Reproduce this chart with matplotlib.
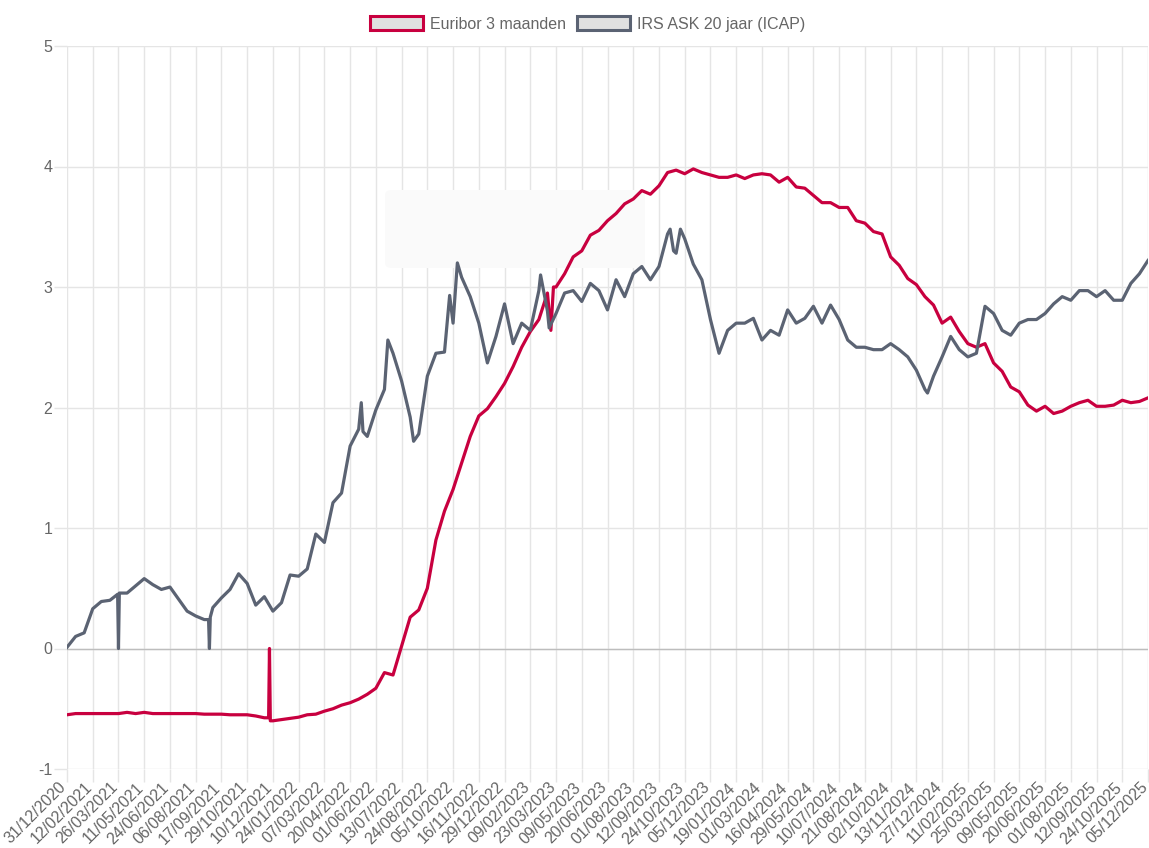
import matplotlib
matplotlib.use('Agg')
import matplotlib.pyplot as plt
import matplotlib.transforms as mtransforms
from matplotlib.patches import Patch, FancyBboxPatch

plt.rcParams['font.family'] = ['Liberation Sans', 'DejaVu Sans']
plt.rcParams['axes.unicode_minus'] = False

# labels op de x-as (elke 30e notering)
tick_labels = ['31/12/2020', '12/02/2021', '26/03/2021', '11/05/2021', '24/06/2021', '06/08/2021',
               '17/09/2021', '29/10/2021', '10/12/2021', '24/01/2022', '07/03/2022', '20/04/2022',
               '01/06/2022', '13/07/2022', '24/08/2022', '05/10/2022', '16/11/2022', '29/12/2022',
               '09/02/2023', '23/03/2023', '09/05/2023', '20/06/2023', '01/08/2023', '12/09/2023',
               '24/10/2023', '05/12/2023', '19/01/2024', '01/03/2024', '16/04/2024', '29/05/2024',
               '10/07/2024', '21/08/2024', '02/10/2024', '13/11/2024', '27/12/2024', '11/02/2025',
               '25/03/2025', '09/05/2025', '20/06/2025', '01/08/2025', '12/09/2025', '24/10/2025',
               '05/12/2025']
label_every = 30
step = 10

euribor = [-0.55, -0.54, -0.54, -0.54, -0.54, -0.54, -0.54, -0.53, -0.54, -0.53,
           -0.54, -0.54, -0.54, -0.54, -0.54, -0.54, -0.545, -0.545, -0.545, -0.55,
           -0.55, -0.55, -0.56, -0.575, -0.60, -0.59, -0.58, -0.57, -0.55, -0.545,
           -0.52, -0.50, -0.47, -0.45, -0.42, -0.38, -0.33, -0.20, -0.22, 0.02,
           0.26, 0.32, 0.50, 0.90, 1.14, 1.32, 1.54, 1.76, 1.93, 1.99,
           2.09, 2.20, 2.34, 2.50, 2.63, 2.73, 2.95, 3.00, 3.11, 3.25,
           3.30, 3.43, 3.47, 3.55, 3.61, 3.69, 3.73, 3.80, 3.77, 3.84,
           3.95, 3.97, 3.94, 3.98, 3.95, 3.93, 3.91, 3.91, 3.93, 3.90,
           3.93, 3.94, 3.93, 3.87, 3.91, 3.83, 3.82, 3.76, 3.70, 3.70,
           3.66, 3.66, 3.55, 3.53, 3.46, 3.44, 3.25, 3.18, 3.07, 3.02,
           2.92, 2.85, 2.70, 2.75, 2.63, 2.53, 2.50, 2.53, 2.37, 2.30,
           2.17, 2.13, 2.02, 1.97, 2.01, 1.95, 1.97, 2.01, 2.04, 2.06,
           2.01, 2.01, 2.02, 2.06, 2.04, 2.05, 2.08]

irs = [0.01, 0.10, 0.13, 0.33, 0.39, 0.40, 0.45, 0.46, 0.52, 0.58,
       0.53, 0.49, 0.51, 0.41, 0.31, 0.27, 0.24, 0.34, 0.42, 0.49,
       0.62, 0.54, 0.36, 0.43, 0.31, 0.38, 0.61, 0.60, 0.66, 0.95,
       0.88, 1.21, 1.29, 1.68, 1.82, 1.76, 1.98, 2.15, 2.45, 2.22,
       1.92, 1.78, 2.26, 2.45, 2.46, 2.70, 3.08, 2.92, 2.70, 2.37,
       2.59, 2.86, 2.53, 2.70, 2.64, 2.97, 2.80, 2.78, 2.95, 2.97,
       2.88, 3.03, 2.97, 2.81, 3.06, 2.92, 3.11, 3.17, 3.06, 3.17,
       3.44, 3.28, 3.40, 3.19, 3.06, 2.73, 2.45, 2.64, 2.70, 2.70,
       2.74, 2.56, 2.64, 2.60, 2.81, 2.70, 2.74, 2.84, 2.70, 2.85,
       2.73, 2.56, 2.50, 2.50, 2.48, 2.48, 2.53, 2.48, 2.42, 2.31,
       2.15, 2.26, 2.42, 2.59, 2.48, 2.42, 2.45, 2.84, 2.78, 2.64,
       2.60, 2.70, 2.73, 2.73, 2.78, 2.86, 2.92, 2.89, 2.97, 2.97,
       2.92, 2.97, 2.89, 2.89, 3.03, 3.11, 3.22]

# losse noteringen (uitschieters, ontbrekende dagen als 0)
euribor_extra_idx = [235, 236, 237, 564, 567]
euribor_extra_val = [-0.575, 0.0, -0.60, 2.64, 3.00]
irs_extra_idx = [59, 60, 61, 165, 166, 167, 343, 345, 374, 404, 446, 455, 552, 562, 703, 707, 715, 1003]
irs_extra_val = [0.45, 0.0, 0.46, 0.24, 0.0, 0.26, 2.04, 1.80, 2.56, 1.72, 2.93, 3.20, 3.10, 2.66, 3.48, 3.30, 3.48, 2.12]

red = '#c8003f'
grey = '#5b6373'


def serie(values, extra_idx, extra_val):
    d = dict(zip(range(0, len(values) * step, step), values))
    d.update(zip(extra_idx, extra_val))
    idx = sorted(d)
    return idx, [d[i] for i in idx]


W, H = 1149, 848
fig = plt.figure(figsize=(W / 100, H / 100), dpi=100)
ax = fig.add_axes([67 / W, 1 - 769 / H, (1148 - 67) / W, (769 - 46) / H])

x_e, y_e = serie(euribor, euribor_extra_idx, euribor_extra_val)
x_i, y_i = serie(irs, irs_extra_idx, irs_extra_val)

# vage tooltip-rest
box = FancyBboxPatch((385 / W, 1 - 268 / H), 260 / W, 78 / H,
                     boxstyle='round,pad=0,rounding_size=0.006', transform=fig.transFigure,
                     facecolor='#fafafa', edgecolor='none', zorder=1.5, clip_on=False)
ax.add_patch(box)

ax.plot(x_e, y_e, color=red, lw=2.3, zorder=3, label='Euribor 3 maanden')
ax.plot(x_i, y_i, color=grey, lw=2.3, zorder=3, label='IRS ASK 20 jaar (ICAP)')
ax.axhline(0, color='#bdbdbd', lw=1, zorder=1)

n_last = (len(tick_labels) - 1) * label_every
ax.set_xlim(0, n_last)
ax.set_ylim(-1, 5)
ax.set_xticks(range(0, n_last + 1, label_every))
ax.set_xticklabels(tick_labels)
ax.set_yticks(range(-1, 6))

ax.grid(True, color='#e5e5e5', lw=1, zorder=0)
ax.set_axisbelow(True)
for s in ax.spines.values():
    s.set_visible(False)
ax.tick_params(axis='both', length=9.5, width=1, color='#e5e5e5', labelcolor='#666666', labelsize=11.5)
ax.tick_params(axis='x', pad=2)
ax.tick_params(axis='y', pad=1)
shift = mtransforms.ScaledTranslation(-3 / 100, 0, fig.dpi_scale_trans)
for lab in ax.get_xticklabels():
    lab.set_rotation(45)
    lab.set_ha('right')
    lab.set_va('center')
    lab.set_rotation_mode('anchor')
    lab.set_transform(lab.get_transform() + shift)

handles = [Patch(facecolor='#e0e0e0', edgecolor=red, linewidth=2.2, label='Euribor 3 maanden'),
           Patch(facecolor='#e0e0e0', edgecolor=grey, linewidth=2.2, label='IRS ASK 20 jaar (ICAP)')]
fig.legend(handles=handles, loc='center', bbox_to_anchor=(588 / W, 1 - 24 / H), ncol=2,
           frameon=False, fontsize=11.5, handlelength=3.3, handleheight=1.0,
           handletextpad=0.45, columnspacing=0.7, labelcolor='#666666')

fig.savefig('out.png', dpi=100)
